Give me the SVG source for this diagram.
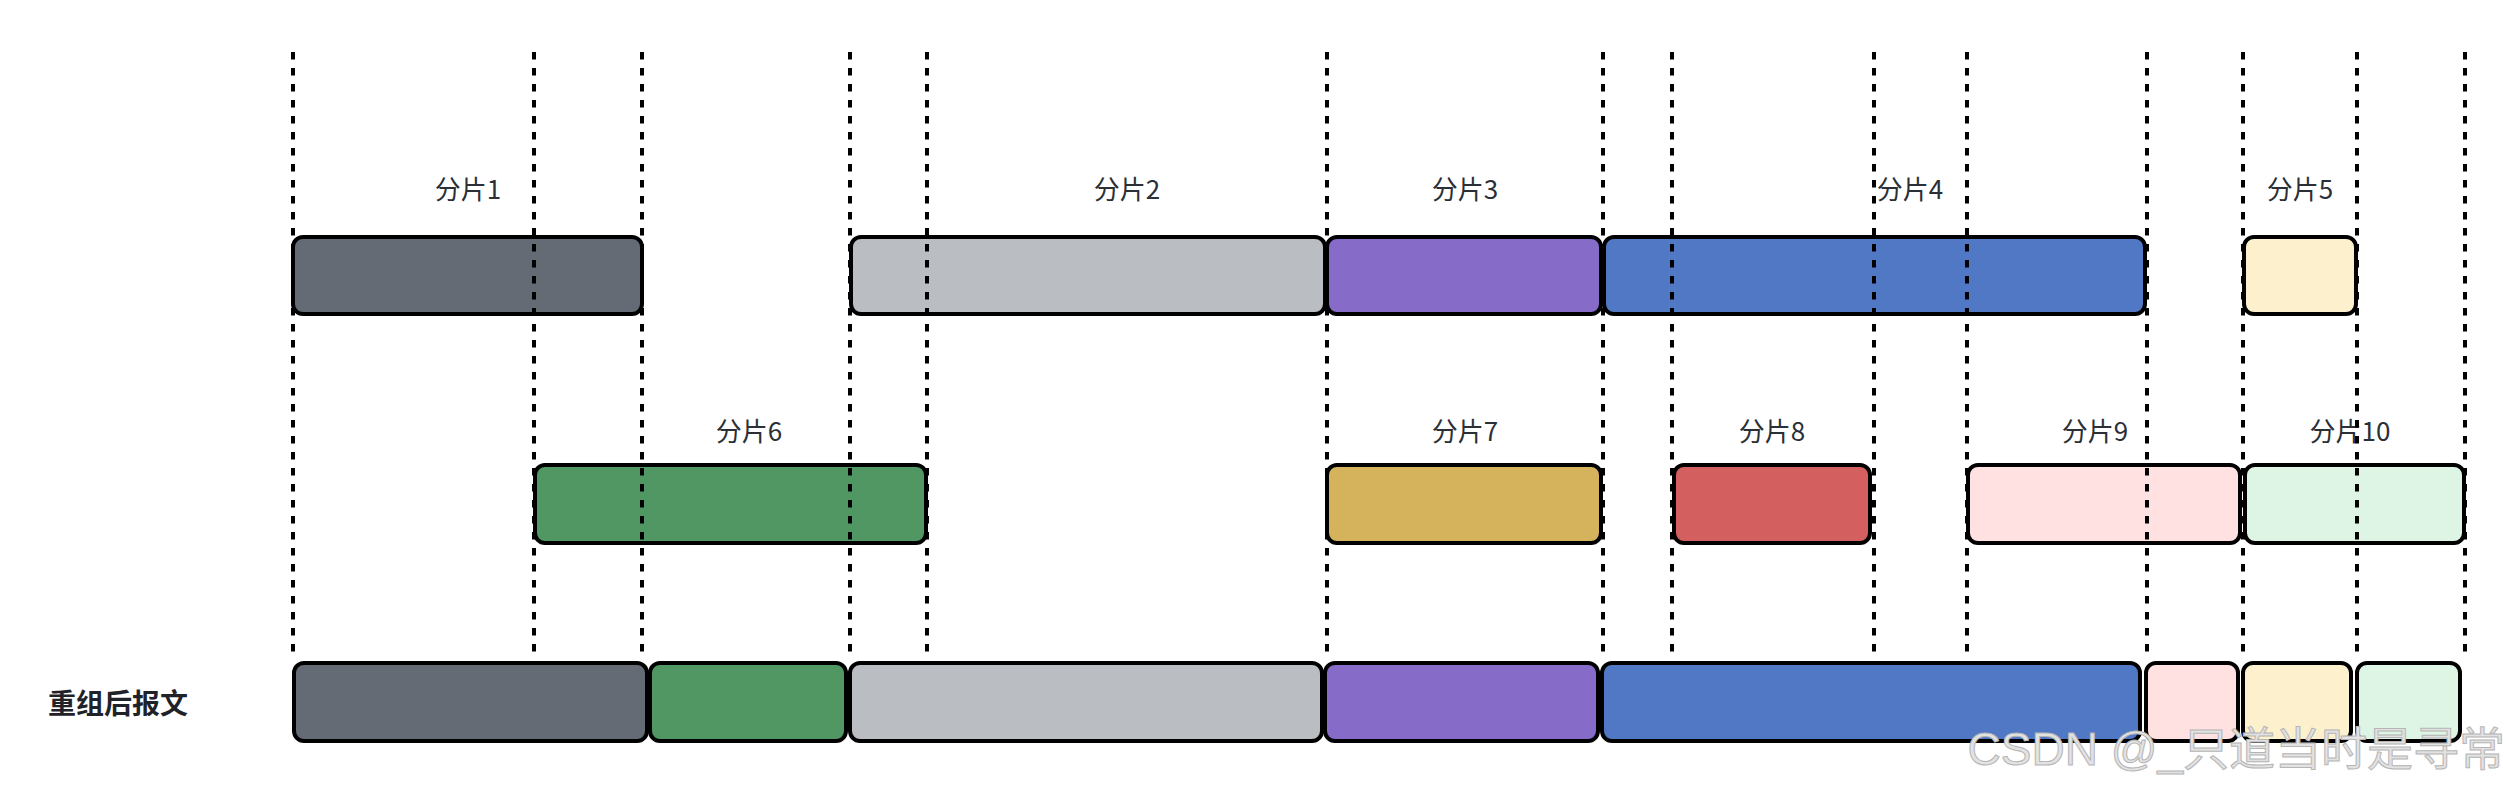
<svg xmlns="http://www.w3.org/2000/svg" width="2516" height="790" viewBox="0 0 2516 790">
<style>
.b{stroke:#000;stroke-width:4}
.lbl{font-family:"Noto Sans CJK SC","Noto Sans",sans-serif;font-size:26px;fill:#2b2f36;text-anchor:middle}
.title{font-family:"Noto Sans CJK SC","Noto Sans",sans-serif;font-size:28px;font-weight:bold;fill:#1f2329}
.dl{stroke:#000;stroke-width:4;stroke-dasharray:7.6 8.4;fill:none}
.c1{fill:#646b75}.c2{fill:#babdc1}.c3{fill:#866bc8}.c4{fill:#5078c5}.c5{fill:#fdf0cd}
.c6{fill:#519764}.c7{fill:#d4b35c}.c8{fill:#d45f5f}.c9{fill:#ffe1e2}.c10{fill:#def5e5}
</style>
<rect width="2516" height="790" fill="#fff"/>
<g id="frag1"><rect class="b c1" x="293" y="237" width="349" height="77" rx="10"/><text class="lbl" x="468" y="199">分片1</text></g>
<g id="frag2"><rect class="b c2" x="851" y="237" width="474" height="77" rx="10"/><text class="lbl" x="1127" y="199">分片2</text></g>
<g id="frag3"><rect class="b c3" x="1327" y="237" width="274" height="77" rx="10"/><text class="lbl" x="1465" y="199">分片3</text></g>
<g id="frag4"><rect class="b c4" x="1604" y="237" width="541" height="77" rx="10"/><text class="lbl" x="1910" y="199">分片4</text></g>
<g id="frag5"><rect class="b c5" x="2244" y="237" width="112" height="77" rx="10"/><text class="lbl" x="2300" y="199">分片5</text></g>
<g id="frag6"><rect class="b c6" x="535" y="465" width="391" height="78" rx="10"/><text class="lbl" x="749" y="441">分片6</text></g>
<g id="frag7"><rect class="b c7" x="1327" y="465" width="274" height="78" rx="10"/><text class="lbl" x="1465" y="441">分片7</text></g>
<g id="frag8"><rect class="b c8" x="1674" y="465" width="196" height="78" rx="10"/><text class="lbl" x="1772" y="441">分片8</text></g>
<g id="frag9"><rect class="b c9" x="1968" y="465" width="272" height="78" rx="10"/><text class="lbl" x="2095" y="441">分片9</text></g>
<g id="frag10"><rect class="b c10" x="2245" y="465" width="219" height="78" rx="10"/><text class="lbl" x="2350" y="441">分片10</text></g>
<g id="reassembled">
<text class="title" x="48" y="714">重组后报文</text>
<rect class="b c1" x="294" y="663" width="353" height="78" rx="10"/>
<rect class="b c6" x="650" y="663" width="196" height="78" rx="10"/>
<rect class="b c2" x="850" y="663" width="472" height="78" rx="10"/>
<rect class="b c3" x="1325" y="663" width="273" height="78" rx="10"/>
<rect class="b c4" x="1602" y="663" width="538" height="78" rx="10"/>
<rect class="b c9" x="2146" y="663" width="92" height="78" rx="10"/>
<rect class="b c5" x="2243" y="663" width="108" height="78" rx="10"/>
<rect class="b c10" x="2357" y="663" width="103" height="78" rx="10"/>
</g>
<g id="connectors">
<path class="dl" d="M293 52V652M534 52V652M642 52V652M850 52V652M927 52V652M1327 52V652M1603 52V652M1672 52V652M1874 52V652M1967 52V652M2147 52V652M2243 52V652M2357 52V652M2465 52V652"/>
</g>
<text x="2505" y="765" text-anchor="end" font-family="'Liberation Sans','Noto Sans CJK SC',sans-serif" font-size="46" fill="#e2e2e2" stroke="#b5b5b5" stroke-width="1">CSDN @_只道当时是寻常</text>
</svg>
